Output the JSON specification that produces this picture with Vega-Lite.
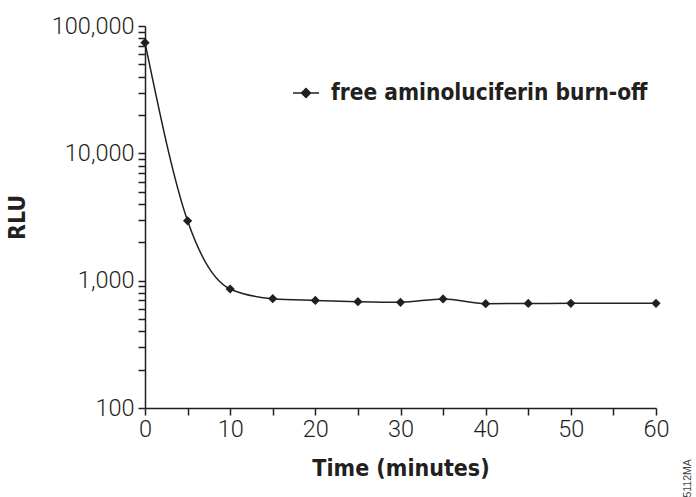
{
  "$schema": "https://vega.github.io/schema/vega-lite/v6.json",
  "width": 511,
  "height": 382,
  "autosize": {"type": "none"},
  "padding": {"left": 145, "top": 26, "right": 40, "bottom": 89},
  "background": "white",
  "config": {
    "view": {"stroke": null},
    "axis": {
      "grid": false,
      "ticks": true,
      "domainColor": "#231f20",
      "domainWidth": 1.5,
      "tickColor": "#231f20",
      "tickOpacity": 1,
      "tickWidth": 1.5,
      "tickSize": 7,
      "labelFont": "Roboto",
      "labelFontWeight": 300,
      "labelFontSize": 23.5,
      "labelColor": "#231f20",
      "labelOverlap": false,
      "labelFlush": false,
      "labelBound": false,
      "titleFont": "'Liberation Sans Narrow', 'DejaVu Sans Condensed', 'Roboto Condensed', sans-serif",
      "titleFontSize": 23,
      "titleFontWeight": "bold",
      "titleColor": "#231f20"
    }
  },
  "data": {
    "values": [
      {"time": 0, "rlu": 74000, "series": "free aminoluciferin burn-off"},
      {"time": 5, "rlu": 2950, "series": "free aminoluciferin burn-off"},
      {"time": 10, "rlu": 860, "series": "free aminoluciferin burn-off"},
      {"time": 15, "rlu": 722, "series": "free aminoluciferin burn-off"},
      {"time": 20, "rlu": 700, "series": "free aminoluciferin burn-off"},
      {"time": 25, "rlu": 684, "series": "free aminoluciferin burn-off"},
      {"time": 30, "rlu": 676, "series": "free aminoluciferin burn-off"},
      {"time": 35, "rlu": 719, "series": "free aminoluciferin burn-off"},
      {"time": 40, "rlu": 660, "series": "free aminoluciferin burn-off"},
      {"time": 45, "rlu": 662, "series": "free aminoluciferin burn-off"},
      {"time": 50, "rlu": 664, "series": "free aminoluciferin burn-off"},
      {"time": 60, "rlu": 664, "series": "free aminoluciferin burn-off"}
    ]
  },
  "layer": [
    {
      "mark": {"type": "line", "interpolate": "monotone", "strokeWidth": 1.5},
      "encoding": {
        "x": {
          "field": "time", "type": "quantitative",
          "scale": {"domain": [0, 60], "nice": false, "zero": false},
          "axis": {
            "title": "Time (minutes)",
            "values": [0, 5, 10, 15, 20, 25, 30, 35, 40, 45, 50, 55, 60],
            "labelExpr": "datum.value % 10 == 0 ? format(datum.value, 'd') : ''",
            "labelPadding": 2,
            "titleX": 255.5,
            "titleY": 67,
            "titleAlign": "center",
            "titleBaseline": "alphabetic"
          }
        },
        "y": {
          "field": "rlu", "type": "quantitative",
          "scale": {"type": "log", "domain": [100, 100000], "nice": false},
          "axis": {
            "title": "RLU",
            "values": [100, 200, 300, 400, 500, 600, 700, 800, 900, 1000, 2000, 3000, 4000, 5000, 6000, 7000, 8000, 9000, 10000, 20000, 30000, 40000, 50000, 60000, 70000, 80000, 90000, 100000],
            "labelExpr": "indexof([100, 1000, 10000, 100000], datum.value) >= 0 ? format(datum.value, ',') : ''",
            "labelPadding": 4,
            "titleX": -128,
            "titleY": 191,
            "titleAngle": -90,
            "titleAlign": "center",
            "titleBaseline": "middle"
          }
        },
        "color": {
          "field": "series", "type": "nominal",
          "scale": {"range": ["#231f20"]},
          "legend": {
            "title": null,
            "orient": "none",
            "legendX": 147,
            "legendY": 53,
            "symbolType": "M-1,0H-0.35M0.35,0H1M0,-0.35L0.35,0L0,0.35L-0.35,0Z",
            "symbolSize": 676,
            "symbolStrokeWidth": 1.5,
            "symbolFillColor": "#231f20",
            "symbolStrokeColor": "#231f20",
            "labelFont": "'Liberation Sans Narrow', 'DejaVu Sans Condensed', 'Roboto Condensed', sans-serif",
            "labelFontSize": 22.5,
            "labelFontWeight": "bold",
            "labelColor": "#231f20",
            "labelOffset": 11,
            "labelLimit": 0
          }
        }
      }
    },
    {
      "mark": {"type": "point", "shape": "diamond", "filled": true, "size": 85, "opacity": 1},
      "encoding": {
        "x": {"field": "time", "type": "quantitative"},
        "y": {"field": "rlu", "type": "quantitative"},
        "color": {"field": "series", "type": "nominal"}
      }
    },
    {
      "data": {"values": [{"code": "5112MA"}]},
      "mark": {"type": "text", "angle": 270, "fontSize": 10.5, "font": "Liberation Sans", "color": "#444444", "align": "center", "baseline": "middle"},
      "encoding": {
        "x": {"datum": 63.8},
        "y": {"datum": 28},
        "text": {"field": "code"}
      }
    }
  ]
}
